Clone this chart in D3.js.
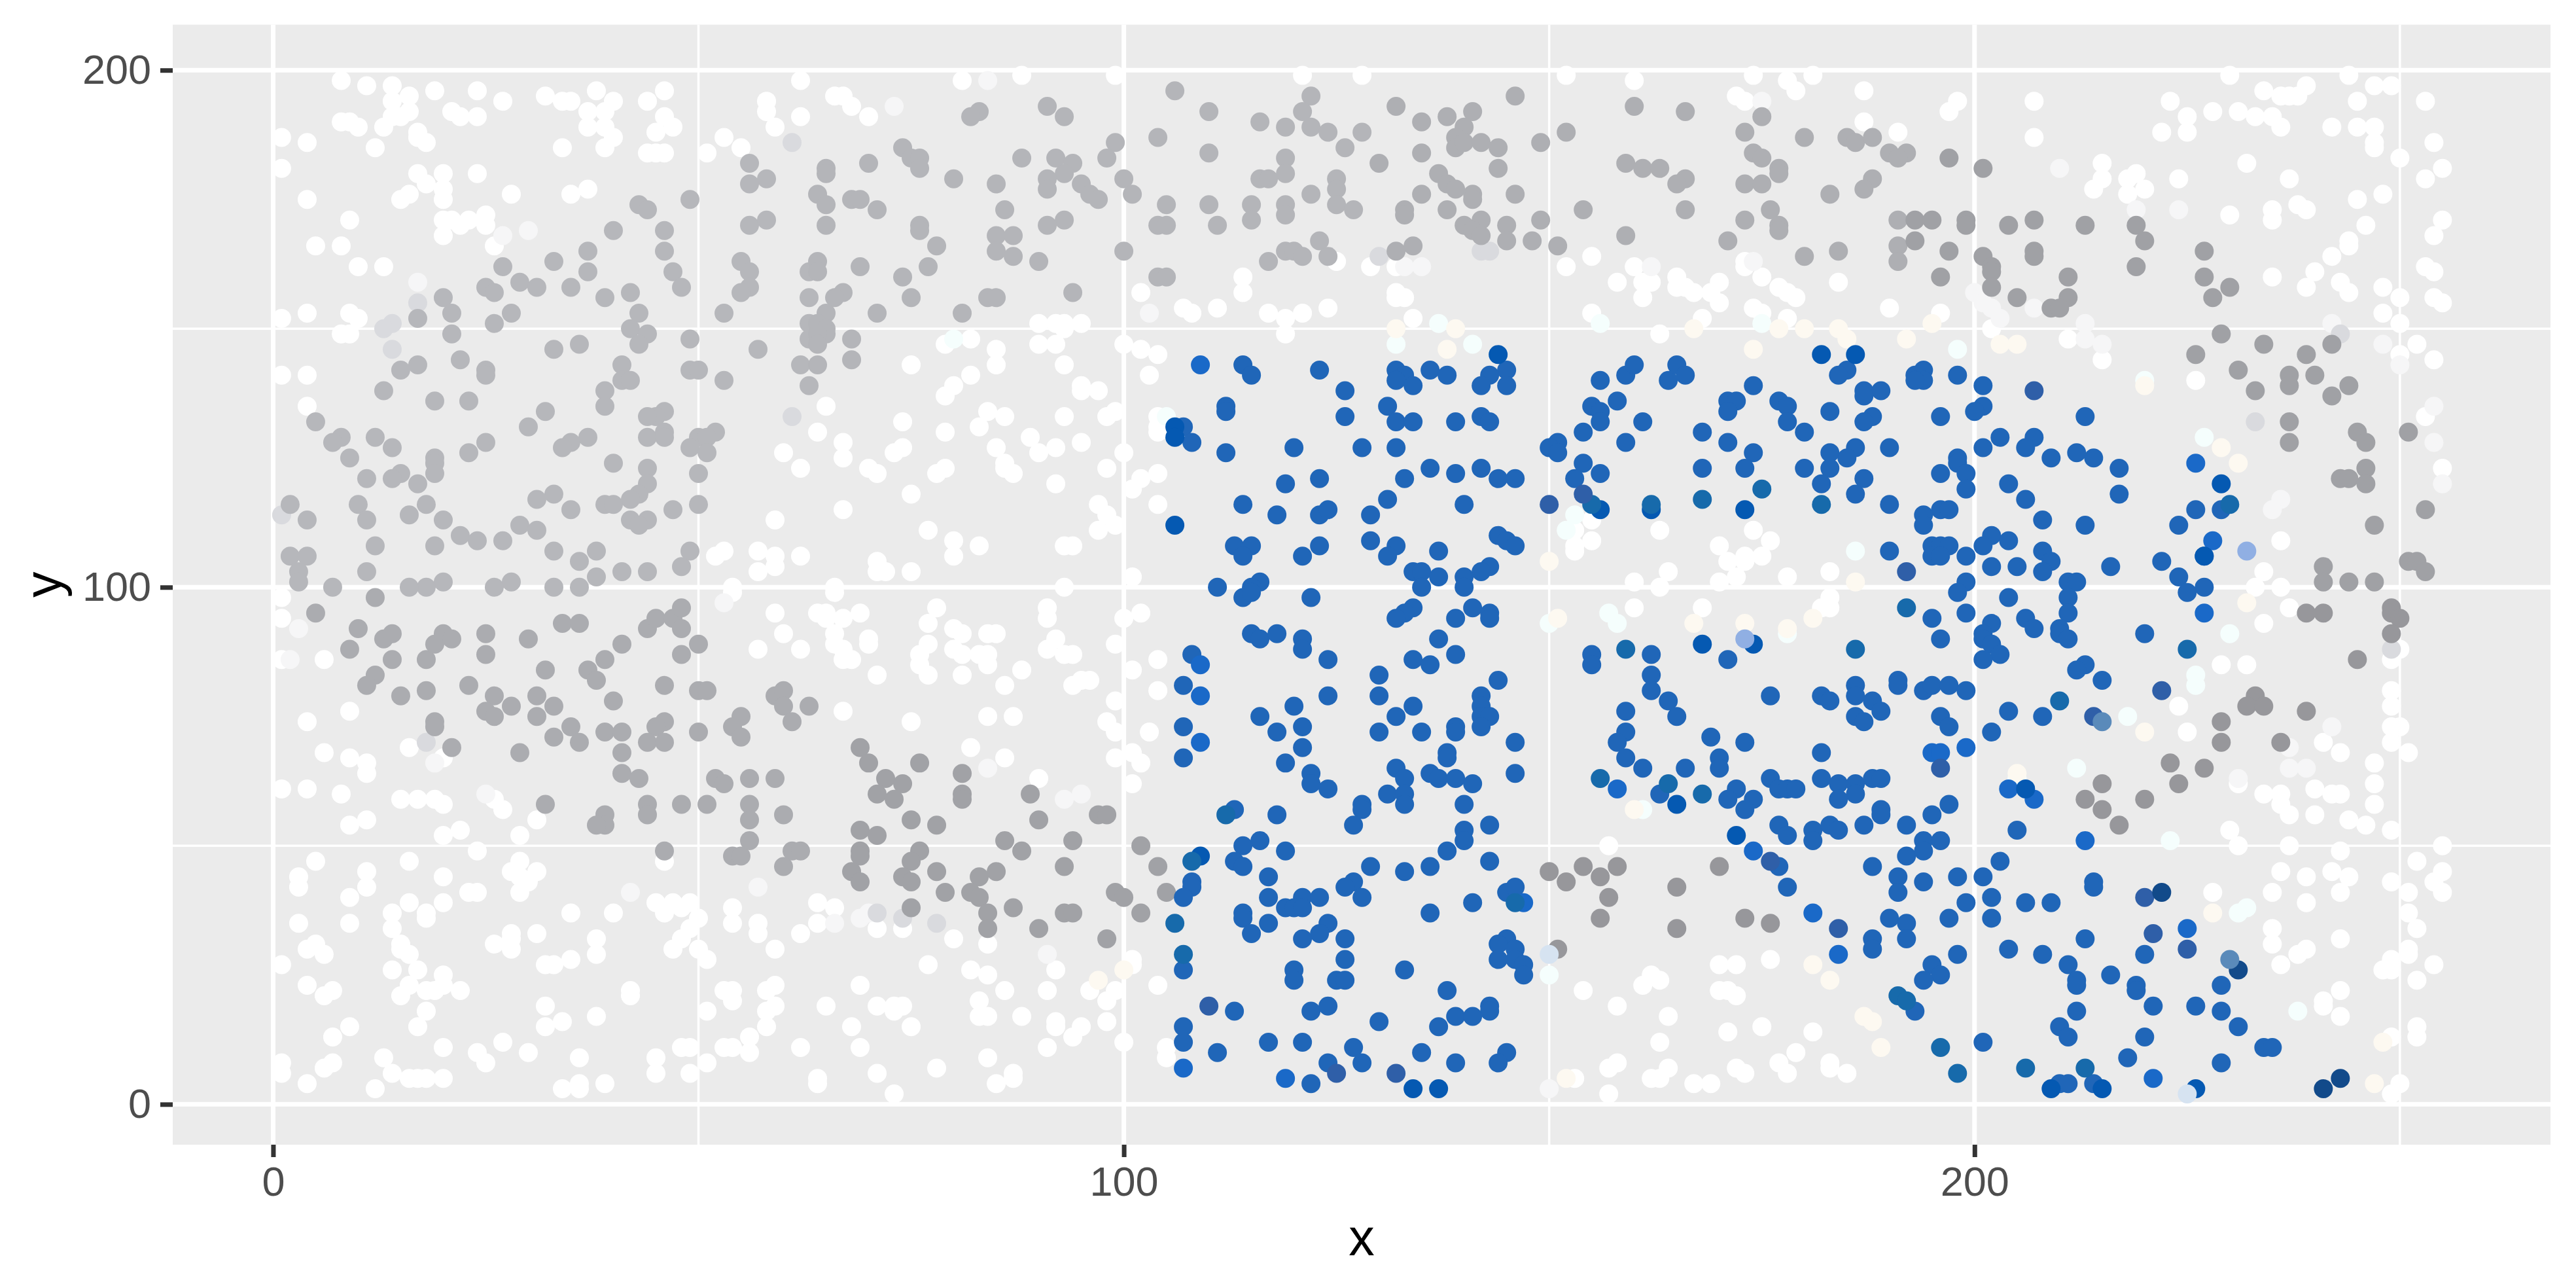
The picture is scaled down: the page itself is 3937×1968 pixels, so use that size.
<!DOCTYPE html>
<html>
<head>
<meta charset="utf-8">
<script src="https://d3js.org/d3.v7.min.js"></script>
<style>html,body{margin:0;padding:0;background:#fff}svg{display:block}</style>
</head>
<body>
<script>
// Each list is flat: x, y, x, y, ...
const whiteUpperLeft=[8,198,11,197,14,197,16,195,14,194,19,196,24,196,27,194,32,195,34,194,35,194,38,196,40,194,46,196,44,194,58,194,62,198,21,192,22,191,24,191,16,192,15,191,14,191,13,189,8,190,9,190,10,189,37,192,39,192,37,189,39,189,46,191,47,189,45,188,58,192,59,189,62,191,1,187,4,186,17,188,17,187,18,186,12,185,34,185,39,185,40,187,44,184,45,184,46,184,53,187,51,184,55,185,1,181,17,180,20,180,24,180,18,178,20,177,20,175,16,176,15,175,4,175,28,176,35,176,37,177,9,171,20,171,21,171,22,170,23,171,25,172,25,170,20,168,5,166,8,166,26,166,10,162,13,162,1,152,4,153,9,153,10,152,8,149,9,149,1,141,4,141,4,135,60,126,62,123,59,113,52,106,53,107,57,107,59,106,62,106,57,103,59,104,54,100];
const whiteUpperMid=[66,195,67,195,68,193,70,191,81,198,88,199,99,199,121,199,128,199,125,163,114,160,114,157,102,157,107,154,108,153,111,154,117,153,119,152,121,153,124,154,119,149,90,151,92,151,93,151,95,151,93,150,82,148,79,147,85,146,90,147,92,147,100,147,102,146,104,145,85,143,75,143,93,143,82,141,103,141,80,139,79,137,95,139,95,138,97,138,65,135,84,134,99,134,86,133,93,133,98,133,104,133,104,131,104,130,64,130,83,131,74,132,79,130,67,128,89,129,95,128,74,127,73,126,85,127,92,127,90,126,100,126,67,125,86,124,86,123,70,123,79,123,98,123,71,122,78,122,87,122,104,122,102,121,101,119,92,120,75,118,104,116,97,116,67,115,98,114,99,112,97,111,77,111,80,109,83,108,93,108,94,108,80,106,71,105,71,103,72,103,75,103,101,102,66,100,93,100];
const whiteUpperRight=[152,199,160,198,174,199,178,198,181,199,179,196,187,196,172,195,173,194,187,190,191,188,129,162,132,162,152,162,155,164,160,162,158,159,161,159,162,159,165,160,165,158,166,158,167,157,169,157,170,159,170,155,161,156,173,162,173,163,175,160,177,158,178,157,179,156,184,159,132,157,132,156,133,156,134,152,155,153,174,154,175,153,178,152,168,152,163,149,190,154,155,113,153,111,155,109,153,108,153,107,163,111,174,111,176,109,170,108,175,106,173,106,171,105,173,105,172,102,170,101,164,103,178,102,183,103,160,101,163,100,230,199,244,199,234,196,239,197,236,195,237,195,238,195,247,197,249,197,245,194,253,194,198,194,197,192,207,194,223,194,225,191,228,192,231,192,233,191,235,191,236,189,222,188,225,188,242,189,245,189,247,189,207,187,247,186,247,185,254,186,250,183,215,182,232,182,255,181,219,180,215,179,218,179,224,179,237,179,253,179,214,177,220,177,218,176,248,176,245,175,238,174,239,173,235,173,230,172,235,171,255,171,246,170,254,168,244,167,244,166,242,164,253,162,240,161,254,161,235,160,243,159,239,158,248,158,244,157,250,156,254,156,255,155,202,150,196,153,248,153,250,151,211,148,215,144,252,147,250,145,254,144,226,140,253,133,255,123,236,109,234,103,233,100,236,100];
const whiteLowerLeft=[1,98,1,94,1,86,6,86,54,99,59,95,60,91,57,88,62,88,9,76,4,74,6,68,9,67,11,66,11,64,16,69,20,67,1,61,4,61,8,60,15,59,17,59,19,59,20,58,26,59,27,57,11,55,9,54,22,53,20,52,29,52,31,55,24,49,5,47,29,47,16,47,11,45,3,44,3,42,11,42,20,44,28,45,29,44,31,45,30,43,29,41,23,41,24,41,9,40,46,47,16,39,20,39,45,39,47,39,49,39,46,37,48,38,50,36,54,38,14,37,18,37,18,36,35,37,40,37,3,35,9,35,14,34,54,35,57,35,57,33,49,34,48,32,62,33,28,33,31,33,28,32,38,32,5,31,15,31,26,31,4,30,15,30,28,30,47,30,50,30,59,30,6,29,16,29,38,29,1,27,51,28,32,27,33,27,35,28,14,26,17,26,20,25,4,23,16,23,20,23,59,23,7,22,18,22,19,22,22,22,42,22,53,22,54,22,58,22,6,21,15,21,42,21,54,20,59,19,32,19,18,18,51,18,58,18,38,17,34,16,9,15,17,15,32,15,58,15,7,13,56,13,27,12,20,11,24,10,30,10,48,11,49,11,53,11,54,11,62,11,56,10,13,9,36,9,45,9,25,8,51,8,7,8,6,7,1,8,1,6,14,6,45,6,49,6,16,5,17,5,18,5,20,5,4,4,39,4,36,4,36,3,34,3,12,3];
const whiteLowerMid=[66,99,64,95,65,95,69,95,67,94,65,94,78,96,77,93,91,96,91,94,100,94,102,95,80,92,81,91,84,91,85,91,66,91,92,90,70,90,70,89,66,89,77,89,99,89,67,88,80,88,91,88,76,87,81,87,83,87,84,87,93,87,94,87,67,86,68,86,104,86,76,85,84,85,88,84,101,84,71,83,77,83,81,83,95,82,96,82,94,81,86,81,104,80,99,78,67,76,84,75,87,75,75,74,98,74,99,72,103,72,82,69,86,67,99,67,101,68,102,66,90,63,101,62,64,39,66,38,64,35,71,34,74,34,80,32,84,31,77,27,82,26,84,25,92,26,101,28,101,27,69,23,96,22,99,22,104,23,86,22,91,22,83,20,98,20,65,19,71,19,73,19,74,19,73,18,83,17,84,17,88,17,92,16,92,15,98,16,68,15,75,15,95,15,94,13,69,11,91,11,100,12,105,11,105,9,84,9,78,7,87,6,87,5,71,6,85,4,64,5,64,4,73,2];
const whiteLowerRight=[160,96,168,96,182,96,183,98,183,96,157,50,154,22,161,23,162,25,163,24,158,19,170,27,172,27,176,28,170,22,171,22,172,21,164,17,171,14,175,15,181,14,163,12,179,10,158,8,157,7,164,7,172,7,173,6,177,8,178,6,183,8,183,7,185,6,162,5,163,5,167,4,169,4,153,5,157,2,237,96,234,93,229,85,232,85,249,86,250,88,249,80,249,77,224,77,225,72,249,73,250,73,241,70,249,70,243,68,251,68,247,66,231,62,234,60,236,60,236,58,237,56,240,61,240,56,242,60,243,60,247,62,247,58,244,55,246,54,249,53,230,53,231,50,237,50,243,49,255,50,252,47,236,45,239,44,242,45,244,44,249,43,255,45,254,43,255,41,251,41,235,41,243,41,228,41,239,39,251,37,252,34,235,34,235,31,243,32,239,30,238,29,251,30,251,29,249,28,248,26,249,26,236,27,254,27,252,24,243,22,241,20,241,19,243,17,252,15,252,13,249,13,250,4,249,2];
const paleCool=[137,151,132,147,141,147,156,151,175,151,186,107,153,114,152,111,198,146,220,140,227,129,157,95,158,93,150,93,178,91,150,25,230,91,226,83,226,81,218,75,232,38,231,37,238,18,105,133,80,148,223,51,205,63,161,57,212,65];
const paleWarm=[139,150,132,150,138,146,177,150,180,150,184,150,185,148,167,150,174,146,150,105,192,148,186,101,195,151,229,127,205,147,203,147,231,124,220,139,167,93,173,93,178,92,181,94,151,94,181,27,183,24,187,17,188,16,189,11,152,5,160,57,232,97,220,72,228,37,248,12,247,4,205,64,100,26,97,24];
const paleGray=[17,159,73,193,84,198,27,168,30,169,103,153,133,162,135,162,175,194,162,162,174,163,200,157,201,155,202,154,203,152,207,154,213,151,242,151,210,181,219,173,224,173,248,147,213,148,215,147,250,143,254,135,254,128,255,120,236,117,235,115,242,73,237,69,237,65,239,65,231,63,2,86,3,92,19,66,25,60,42,41,57,42,66,35,69,36,70,37,95,60,93,59,84,65,91,29,53,97,150,3];
const lightGray=[14,151,13,150,17,155,14,146,1,114,61,133,61,186,142,165,143,165,130,164,233,132,243,149,71,37,74,36,78,35,18,70,249,88];
const grayUpperLeft=[56,182,58,179,56,178,49,175,43,174,44,173,40,169,46,169,56,170,58,171,37,165,46,165,33,163,37,161,47,161,55,163,56,161,27,162,29,159,25,158,26,157,31,158,35,158,48,158,56,158,55,157,39,156,42,157,63,161,63,156,63,151,63,148,62,143,63,139,20,156,21,153,26,151,28,153,43,153,53,153,17,152,42,150,44,149,21,149,43,147,49,148,33,146,36,147,57,146,22,144,25,142,25,141,41,143,17,143,15,142,41,140,42,140,49,142,50,142,53,140,13,138,39,138,19,136,23,136,39,135,32,134,46,134,45,133,44,133,30,131,5,132,8,129,7,128,12,129,14,127,25,128,23,126,35,128,34,127,37,129,44,129,46,130,46,129,50,129,52,130,51,129,49,127,51,126,9,125,19,125,19,124,40,124,44,123,19,122,50,122,11,121,15,122,14,121,17,120,44,120,43,118,42,117,33,118,31,117,39,116,40,116,35,115,47,115,50,116,10,116,2,116,18,116,16,114,4,113,11,113,20,113,42,113,44,113,43,112,29,112,31,111,22,110,24,109,27,109,12,108,19,108,33,107,38,107,49,107,2,106,4,106,36,105,48,104,11,103,41,103,44,103,38,102,3,103,3,101,7,100,20,101,18,100,16,100,28,101,26,100,33,100,36,100];
const grayUpperMid=[106,196,122,195,110,192,121,192,116,190,119,189,122,189,124,188,128,188,91,193,93,191,83,192,82,191,104,187,99,186,110,184,126,185,74,185,75,183,76,183,76,181,98,183,88,183,92,183,94,182,119,183,65,181,65,180,70,182,93,180,91,179,80,179,100,179,116,179,117,179,119,180,125,179,125,177,85,178,95,178,91,177,96,176,97,175,101,176,64,176,65,174,68,175,69,175,71,173,86,173,105,174,110,174,115,174,119,174,122,176,125,174,127,173,93,171,91,170,115,171,119,172,65,170,76,170,76,169,104,170,105,170,111,170,85,168,87,168,78,166,85,165,100,165,123,167,119,165,120,165,121,164,124,164,87,164,90,163,64,163,64,161,69,162,77,162,74,160,117,163,104,160,105,160,94,157,67,157,66,156,75,156,84,156,85,156,71,153,81,153,65,153,64,151,65,150,65,149,64,149,64,147,68,148,68,144,64,143];
const grayUpperRight=[132,193,146,195,160,193,166,192,135,190,138,191,141,192,140,189,139,187,139,185,140,186,142,186,144,185,149,186,152,188,175,191,173,188,180,187,185,187,186,186,188,187,135,184,130,182,174,184,175,183,190,184,192,184,191,183,159,182,161,181,163,181,144,181,177,181,177,180,137,180,138,178,166,179,165,178,188,179,173,178,175,178,139,177,135,176,141,176,141,175,146,176,187,177,183,176,133,173,133,172,138,173,154,173,166,173,176,173,142,171,140,170,141,169,142,168,145,170,149,171,173,171,177,170,177,169,191,171,145,167,148,167,151,166,159,168,171,167,134,166,132,165,180,164,184,165,191,166,191,163];
const grayFarRight=[197,183,201,181,193,171,195,171,199,171,199,170,204,170,207,171,213,170,219,170,220,167,193,167,197,165,201,164,207,165,207,164,202,162,202,161,219,162,227,165,196,160,211,160,227,160,202,158,230,158,228,156,205,156,211,156,209,154,210,154,229,149,234,147,242,147,226,145,239,145,231,142,237,141,240,141,237,139,233,138,244,139,242,137,237,132,237,128,245,130,246,128,251,130,246,123,243,121,244,121,246,120,253,115,247,112,251,105,252,105,253,103,241,104,241,101,244,101,247,101];
const grayLowerLeft=[5,95,12,98,10,92,9,88,13,90,14,91,14,86,18,86,19,89,20,91,21,90,25,91,25,87,30,90,34,93,36,93,32,84,37,84,38,82,39,86,41,89,44,92,45,94,47,94,48,96,48,92,48,87,50,89,12,83,11,81,15,79,18,80,23,81,26,79,31,79,28,77,33,77,25,76,26,75,31,75,40,78,46,81,50,80,51,80,59,79,60,80,60,77,63,77,61,74,55,75,54,73,55,71,19,74,19,73,35,73,33,71,36,70,39,72,41,72,46,74,45,73,44,70,46,70,50,72,21,69,29,68,41,68,41,64,43,63,52,63,53,62,56,63,59,63,32,58,44,58,44,56,48,58,51,58,56,58,56,55,60,56,39,56,39,54,38,54,56,51,46,49,54,48,55,48,61,49,62,49,60,46];
const grayLowerMid=[69,69,70,66,76,66,81,64,72,63,74,62,71,60,73,59,81,60,81,59,89,60,75,55,78,54,90,55,97,56,98,56,69,53,71,52,86,51,88,49,94,51,102,50,76,49,69,49,69,48,75,47,93,46,104,46,68,45,74,44,69,43,75,43,78,45,83,44,85,45,79,41,82,41,83,40,99,41,100,40,105,41,75,38,87,38,84,37,93,37,94,37,102,37,84,34,90,34,98,32];
const grayLowerRight=[150,45,152,43,154,46,156,44,158,46,157,40,156,36,165,42,170,46,165,34,173,36,176,35,151,30,239,95,241,95,249,96,249,95,250,94,249,91,245,86,233,79,232,77,234,77,239,76,229,74,229,70,236,70,223,66,227,65,224,62,215,62,213,59,220,59,215,57,217,54];
const blueMain=[114,143,115,141,123,142,126,138,112,135,112,134,126,133,107,131,108,128,112,126,120,127,128,127,119,120,123,121,114,116,118,114,123,114,124,115,113,108,115,108,114,106,123,108,121,106,111,100,116,101,115,100,132,142,133,141,132,140,134,139,136,142,138,141,145,142,143,141,142,139,145,139,131,135,132,132,134,132,139,132,142,133,143,132,132,127,136,123,133,121,139,122,142,123,144,121,146,121,131,117,140,116,129,114,129,109,132,108,131,106,144,110,145,109,146,108,137,107,143,104,142,103,134,103,135,103,137,102,140,102,135,100,140,100,156,140,159,141,160,143,164,140,165,143,166,141,174,139,171,136,172,136,171,134,158,136,155,135,156,134,156,132,161,132,154,130,159,128,151,128,150,127,151,126,168,130,171,128,174,126,154,124,156,122,153,121,168,123,173,123,185,142,184,141,187,138,189,138,187,137,177,136,178,135,178,132,183,134,180,130,188,133,187,132,186,127,190,127,183,126,185,125,180,123,183,123,187,121,182,120,186,118,190,116,190,107,193,141,194,142,194,140,193,140,198,141,201,139,201,135,200,134,196,133,213,133,203,129,207,129,201,127,206,127,209,125,212,126,214,125,198,125,198,124,199,122,196,122,217,123,204,120,199,119,217,118,206,117,229,115,196,115,197,115,194,114,194,112,208,113,213,112,226,115,224,112,202,110,201,108,204,109,195,108,196,108,197,108,195,106,196,106,199,106,208,107,209,105,208,103,202,104,205,104,216,104,222,105,227,106,224,102,199,101,211,101,212,101,227,100,114,98,115,99,122,98,115,91,116,90,118,91,121,90,121,88,108,87,124,86,107,81,124,79,120,77,116,75,121,73,118,72,107,73,121,69,107,67,119,66,122,64,122,62,124,61,128,58,128,57,113,57,118,56,127,54,116,51,114,50,119,49,113,47,114,46,129,46,117,44,127,43,126,42,128,40,108,43,108,42,107,40,117,40,121,40,123,40,119,38,120,38,121,38,114,37,114,36,117,35,124,35,115,33,123,33,121,32,126,32,126,28,107,26,120,26,120,24,125,24,126,24,113,18,122,18,124,19,107,15,107,12,117,12,121,12,127,11,111,10,124,8,128,8,122,4,134,96,133,95,132,94,141,96,139,94,143,95,143,94,137,90,134,86,136,85,139,87,130,83,144,82,130,79,142,79,142,77,134,77,132,75,142,75,143,75,130,72,135,72,139,73,139,72,142,73,146,70,138,68,138,67,132,65,133,63,136,64,137,63,139,63,141,62,146,64,131,60,133,60,133,58,140,58,143,54,140,53,140,51,138,49,143,47,133,45,136,46,141,39,136,37,145,41,146,42,145,32,144,31,144,28,146,30,146,28,147,27,147,25,133,26,138,22,143,19,143,18,139,17,141,17,130,16,137,15,135,10,145,10,144,8,139,8,155,87,155,85,162,87,171,86,162,83,162,80,164,78,165,75,159,76,159,72,158,70,159,67,161,65,166,65,176,79,182,79,183,78,186,81,186,79,188,78,189,76,186,75,187,74,191,82,191,81,169,71,173,70,170,67,170,65,182,68,163,60,172,61,171,59,174,59,173,57,176,63,177,61,178,61,179,61,182,63,184,62,186,62,188,63,189,63,186,60,184,59,189,57,189,56,177,54,178,52,181,53,181,51,183,54,184,53,187,54,192,54,177,46,178,42,188,46,192,48,191,44,191,41,190,36,192,35,192,32,188,32,188,30,193,18,198,99,199,95,195,94,196,90,202,93,201,91,201,90,202,89,203,87,201,86,204,98,206,94,207,92,211,98,211,95,210,92,210,91,211,90,220,91,225,99,213,85,212,84,215,82,194,80,195,81,197,81,199,80,204,76,208,75,196,75,197,73,202,72,197,58,195,56,205,53,194,51,196,51,194,49,203,47,194,43,198,44,201,44,202,40,199,39,206,39,209,39,197,36,202,36,214,43,214,42,213,32,220,29,204,30,208,29,198,29,195,27,196,25,194,24,211,27,212,24,212,23,216,25,219,23,219,22,229,23,221,19,226,19,229,18,212,18,210,15,211,13,220,13,231,15,234,11,235,11,201,12,218,9,229,8,210,4,211,4,214,4];
const blueBright=[109,143,109,85,109,79,109,70,226,124,158,61,181,37,184,29,225,34,199,69,204,61,228,109,227,95,147,39,107,7,119,5,221,5,213,51,174,49,195,68,196,68,207,59];
const blueDeep=[106,131,106,129,106,112,144,145,156,115,162,115,173,115,182,145,186,145,172,52,168,89,174,89,109,48,229,120,165,58,134,3,137,3,209,3,215,3,226,3,206,61,227,106];
const blueTeal=[159,88,175,119,168,117,162,116,112,56,156,63,164,62,192,96,155,116,186,88,182,116,198,6,146,39,196,11,206,7,213,7,230,116,106,35,107,29,108,47,168,60,191,21,192,20,210,78,225,88];
const blueMuted=[110,19,125,6,132,6,176,47,184,34,196,65,220,40,225,30,192,103,207,138,221,33,222,80,214,75,154,118,150,116];
const blueNavy=[241,3,243,5,222,41,231,26];
const steelPale=[215,74,230,28];
const bluePale=[173,90,232,107];
const blueMist=[150,29,225,2];

const seriesList=[whiteUpperLeft,whiteUpperMid,whiteUpperRight,whiteLowerLeft,whiteLowerMid,whiteLowerRight,paleCool,paleWarm,paleGray,lightGray,grayUpperLeft,grayUpperMid,grayUpperRight,grayFarRight,grayLowerLeft,grayLowerMid,grayLowerRight,blueMain,blueBright,blueDeep,blueTeal,blueMuted,blueNavy,steelPale,bluePale,blueMist];
const seriesColors=["#ffffff","#ffffff","#ffffff","#ffffff","#ffffff","#ffffff","#f5fefd","#fdf9f1","#f6f6f7","#d9dade","#b6b7bb","#b4b5b9","#aeafb3","#a0a1a5","#abacb0","#a1a2a6","#97979b","#2066b8","#1a69c8","#0559b2","#176aab","#2f5fa8","#124a8a","#5a8aba","#90afe3","#d6e3f1"];
const xTicks=[0,100,200];
const yTicks=[0,100,200];
const xMinor=[50,150,250];
const yMinor=[50,150];

const W=3937,H=1968,L=264,R=3898,T=37.7,B=1749;
const x=d3.scaleLinear().domain([-11.8,267.7]).range([L,R]);
const y=d3.scaleLinear().domain([-7.81,208.8]).range([B,T]);
const FONT='"Liberation Sans", Arial, sans-serif';

const svg=d3.select("body").append("svg").attr("width",W).attr("height",H).style("background","#fff");
svg.append("rect").attr("x",L).attr("y",T).attr("width",R-L).attr("height",B-T).attr("fill","#ebebeb");

const grid=svg.append("g").attr("stroke","#fff");
grid.selectAll(".xm").data(xMinor).join("line").attr("x1",x).attr("x2",x).attr("y1",T).attr("y2",B).attr("stroke-width",3.5);
grid.selectAll(".ym").data(yMinor).join("line").attr("y1",y).attr("y2",y).attr("x1",L).attr("x2",R).attr("stroke-width",3.5);
grid.selectAll(".xM").data(xTicks).join("line").attr("x1",x).attr("x2",x).attr("y1",T).attr("y2",B).attr("stroke-width",7);
grid.selectAll(".yM").data(yTicks).join("line").attr("y1",y).attr("y2",y).attr("x1",L).attr("x2",R).attr("stroke-width",7);

const pts=svg.append("g");
seriesList.forEach((flat,i)=>{
  const data=d3.range(0,flat.length,2).map(k=>[flat[k],flat[k+1]]);
  pts.append("g").attr("fill",seriesColors[i]).selectAll("circle").data(data).join("circle")
    .attr("cx",d=>x(d[0])).attr("cy",d=>y(d[1])).attr("r",14.5);
});

function styleAxis(g){
  g.select(".domain").remove();
  g.selectAll(".tick line").attr("stroke","#333").attr("stroke-width",7);
  g.selectAll(".tick text").attr("fill","#4d4d4d").style("font-family",FONT).style("font-size","63px");
}
svg.append("g").attr("transform",`translate(0,${B})`)
  .call(d3.axisBottom(x).tickValues(xTicks).tickFormat(d3.format("d")).tickSize(19).tickPadding(14)).call(styleAxis);
svg.append("g").attr("transform",`translate(${L},0)`)
  .call(d3.axisLeft(y).tickValues(yTicks).tickFormat(d3.format("d")).tickSize(19).tickPadding(14)).call(styleAxis);

svg.append("text").attr("x",(L+R)/2).attr("y",1918).attr("text-anchor","middle").attr("fill","#000")
  .style("font-family",FONT).style("font-size","79px").text("x");
svg.append("text").attr("transform",`translate(93,${(T+B)/2}) rotate(-90)`).attr("text-anchor","middle").attr("fill","#000")
  .style("font-family",FONT).style("font-size","79px").text("y");
</script>
</body>
</html>
